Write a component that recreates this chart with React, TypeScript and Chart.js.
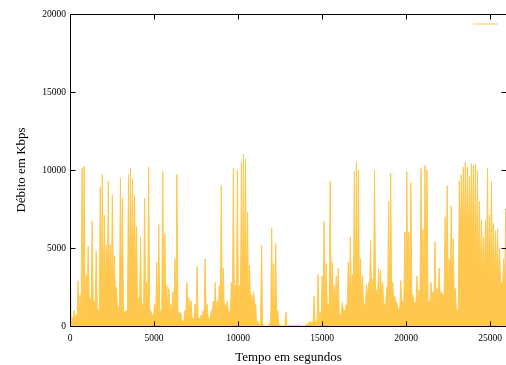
import { useEffect, useRef } from "react";
import { Chart, registerables } from "chart.js";

Chart.register(...registerables);

// sampling interval of the peak series, seconds
const sampleInterval = 120;

// peak throughput (Kbps), one sample per interval
const debitoKbps = [
  4900, 500, 1000, 700, 2900, 2000, 10100, 10250, 3300, 5100,
  1800, 6700, 1600, 4800, 1000, 8900, 9700, 7100, 5200, 9300,
  5200, 8400, 4500, 2500, 1200, 9500, 8200, 900, 1000, 9700,
  10100, 9400, 8400, 6400, 1800, 5700, 1400, 8200, 2800, 10200,
  1000, 700, 1400, 4100, 6500, 1000, 9900, 5900, 2600, 2400,
  1400, 2200, 4300, 9700, 900, 800, 300, 1000, 2800, 1800,
  1600, 500, 1400, 3800, 500, 700, 1000, 4300, 1400, 500,
  1000, 1600, 2800, 1600, 2600, 9000, 3700, 1400, 1600, 900,
  2800, 10100, 2600, 10000, 2600, 10500, 11000, 10700, 7300, 3900,
  2000, 2200, 1400, 300, 100, 5200, 50, 0, 0, 200,
  6300, 4000, 5300, 1000, 100, 0, 0, 900, 0, 50,
  0, 30, 30, 100, 0, 0, 0, 50, 200, 300,
  250, 1900, 300, 3300, 900, 3200, 6700, 4000, 1400, 9300,
  4100, 2600, 3200, 3700, 700, 1500, 1000, 1400, 4100, 5700,
  3300, 9900, 10500, 10000, 4300, 3200, 1400, 2600, 2800, 5500,
  3000, 10000, 2300, 3700, 3600, 2800, 1400, 2500, 8000, 9800,
  2800, 1900, 1500, 1100, 2900, 1600, 6000, 9900, 6000, 9200,
  2000, 1500, 3200, 2300, 10100, 6200, 10300, 10000, 1600, 2800,
  2200, 5400, 2400, 3700, 2200, 2000, 7000, 9000, 4300, 7700,
  5600, 2400, 1000, 9300, 9700, 10200, 10500, 10200, 9600, 10400,
  10300, 10400, 10000, 8000, 6800, 5700, 6800, 10100, 7100, 9300,
  6600, 6100, 6200, 5000, 2800, 4300, 7500, 6200, 6000,
];

// width of one floor bucket, seconds
const floorBucket = 1000;
// base level between the spikes (Kbps), one value per 1000 s
const pisoKbps = [
  500, 1500, 2000, 3000, 1000, 800, 800, 500, 700, 1000,
  1500, 200, 0, 0, 100, 1200, 1500, 1800, 1800, 1500,
  1500, 1500, 2000, 5000, 3000, 2500, 2500,
];

const xTickValues = [0, 5000, 10000, 15000, 20000, 25000];
const yTickValues = [0, 5000, 10000, 15000, 20000];
const xMax = 26000;
const yMax = 20000;

const xTitle = "Tempo em segundos";
const yTitle = "Débito em Kbps";

const fillColor = "rgb(255, 199, 77)";
const fontFamily = "'Liberation Serif', 'DejaVu Serif', serif";

function buildPoints() {
  const pts: { x: number; y: number }[] = [];
  debitoKbps.forEach((v, i) => {
    const t = i * sampleInterval;
    pts.push({ x: t, y: v });
    if (i < debitoKbps.length - 1) {
      const tm = t + sampleInterval / 2;
      const floor = pisoKbps[Math.min(pisoKbps.length - 1, Math.floor(tm / floorBucket))];
      pts.push({ x: tm, y: Math.min(floor, v, debitoKbps[i + 1]) });
    }
  });
  return pts;
}

const framePlugin = {
  id: "gnuplotFrame",
  afterDatasetsDraw(chart: any) {
    const { ctx, chartArea, scales } = chart;
    const { left, right, top, bottom } = chartArea;
    const x = scales.x;
    const y = scales.y;
    ctx.save();
    ctx.strokeStyle = "#000";
    ctx.lineWidth = 1;
    ctx.beginPath();
    const L = Math.round(left) + 0.5;
    const R = Math.round(right) - 0.5;
    const T = Math.round(top) + 0.5;
    const B = Math.round(bottom) + 0.5;
    ctx.moveTo(L, T);
    ctx.lineTo(R, T);
    ctx.lineTo(R, B);
    ctx.lineTo(L, B);
    ctx.closePath();
    xTickValues.forEach((v) => {
      const px = Math.round(x.getPixelForValue(v)) + 0.5;
      ctx.moveTo(px, B);
      ctx.lineTo(px, B - 5);
      ctx.moveTo(px, T);
      ctx.lineTo(px, T + 5);
    });
    yTickValues.forEach((v) => {
      const py = Math.round(y.getPixelForValue(v)) + 0.5;
      ctx.moveTo(L, py);
      ctx.lineTo(L + 5, py);
      ctx.moveTo(R, py);
      ctx.lineTo(R - 5, py);
    });
    ctx.stroke();
    // key sample (empty title)
    ctx.strokeStyle = fillColor;
    ctx.beginPath();
    ctx.moveTo(right - 34, top + 10);
    ctx.lineTo(right - 9, top + 10);
    ctx.stroke();
    ctx.restore();
  },
};

export default function App() {
  const ref = useRef<HTMLCanvasElement | null>(null);

  useEffect(() => {
    if (!ref.current) return;
    const chart = new Chart(ref.current, {
      type: "line",
      data: {
        datasets: [
          {
            label: "",
            data: buildPoints(),
            borderColor: fillColor,
            backgroundColor: fillColor,
            borderWidth: 1,
            fill: "origin",
            pointRadius: 0,
            tension: 0,
          },
        ],
      },
      options: {
        animation: false,
        responsive: false,
        events: [],
        layout: { padding: { top: 14, right: 5, left: 0, bottom: 0 } },
        plugins: {
          legend: { display: false },
          tooltip: { enabled: false },
        },
        scales: {
          x: {
            type: "linear",
            min: 0,
            max: xMax,
            grid: { display: false, drawTicks: false },
            border: { display: false },
            afterBuildTicks: (s: any) => {
              s.ticks = xTickValues.map((v) => ({ value: v }));
            },
            afterFit: (s: any) => {
              s.height = 39;
            },
            ticks: {
              color: "#000",
              padding: 7,
              maxRotation: 0,
              autoSkip: false,
              font: { family: fontFamily, size: 9.5 },
              callback: (v: any) => String(v),
            },
            title: {
              display: true,
              text: xTitle,
              color: "#000",
              padding: { top: 0, bottom: 0 },
              font: { family: fontFamily, size: 13 },
            },
          },
          y: {
            type: "linear",
            min: 0,
            max: yMax,
            grid: { display: false, drawTicks: false },
            border: { display: false },
            afterBuildTicks: (s: any) => {
              s.ticks = yTickValues.map((v) => ({ value: v }));
            },
            afterFit: (s: any) => {
              s.width = 70;
            },
            ticks: {
              color: "#000",
              padding: 4,
              autoSkip: false,
              font: { family: fontFamily, size: 9.5 },
              callback: (v: any) => String(v),
            },
            title: {
              display: true,
              text: yTitle,
              color: "#000",
              padding: { top: 14, bottom: 0 },
              font: { family: fontFamily, size: 13 },
            },
          },
        },
      },
      plugins: [framePlugin],
    });
    return () => chart.destroy();
  }, []);

  return (
    <div
      style={{
        position: "fixed",
        left: 0,
        top: 0,
        width: 506,
        height: 365,
        overflow: "hidden",
        background: "#fff",
      }}
    >
      <canvas ref={ref} width={512} height={365} style={{ display: "block" }} />
    </div>
  );
}
